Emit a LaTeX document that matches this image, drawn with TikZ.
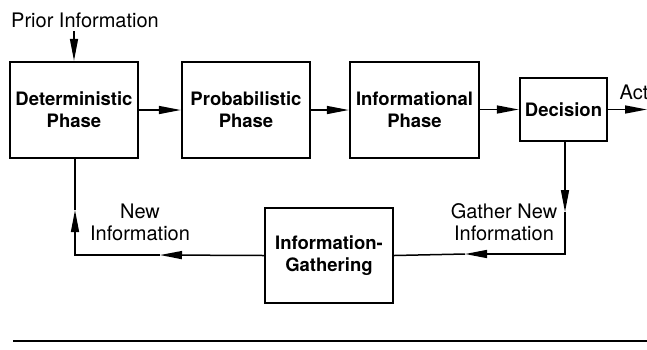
\documentclass[tikz,border=0pt]{standalone}
\usepackage{fontspec}
\setmainfont{TeX Gyre Heros}
\usetikzlibrary{arrows.meta}
\begin{document}
\begin{tikzpicture}[x=1pt,y=-1pt,
    phase/.style={draw,line width=2.4pt,inner sep=0pt,align=center,
      font=\fontsize{18.5}{22}\selectfont\bfseries},
    conn/.style={line width=1.5pt},
    tip/.style={-{Triangle[length=22pt,width=8pt]}},
    lbl/.style={align=center,font=\fontsize{20}{22}\selectfont}]
\useasboundingbox (0,0) rectangle (647,349);
\node[phase,minimum width=128pt,minimum height=96pt] (det) at (74,110) {Deterministic\\Phase};
\node[phase,minimum width=128pt,minimum height=96pt] (prob) at (246,110) {Probabilistic\\Phase};
\node[phase,minimum width=129pt,minimum height=96pt] (info) at (414.5,110) {Informational\\Phase};
\node[phase,minimum width=87pt,minimum height=63pt] (dec) at (563.5,109.5) {Decision};
\node[phase,minimum width=128pt,minimum height=95pt] (gath) at (329,255.5) {Information-\\Gathering};

\node[lbl] (prior) at (85,20) {Prior Information};
\node[lbl] (act) at (634,92) {Act};
\node[lbl] (newinfo) at (140,222) {New\\Information};
\node[lbl] (gathnew) at (504,222) {Gather New\\Information};

\coordinate (actend) at (647,109.5);
\coordinate (downtip) at (565,212);
\coordinate (rcorner) at (565,254);
\coordinate (rtip) at (465,254);
\coordinate (ltip) at (160,255);
\coordinate (lcorner) at (75,255);
\coordinate (uptip) at (75,210);

\draw[conn,tip] (det.north |- prior.south) -- (det.north);
\draw[conn,tip] (det) -- (prob);
\draw[conn,tip] (prob) -- (info);
\draw[conn,tip] (info.east |- dec) -- (dec);
\draw[conn,tip] (dec) -- (actend);

\draw[conn,tip] (dec.south -| downtip) -- (downtip);
\draw[conn,tip] (downtip) -- (rcorner) -- (rtip);
\draw[conn] (rtip) -- (gath.east);
\draw[conn,tip] (gath.west) -- (ltip);
\draw[conn,tip] (ltip) -- (lcorner) -- (uptip);
\draw[conn] (uptip) -- (uptip |- det.south);

\draw[line width=2.5pt] (13,341) -- (647,341);
\end{tikzpicture}
\end{document}
